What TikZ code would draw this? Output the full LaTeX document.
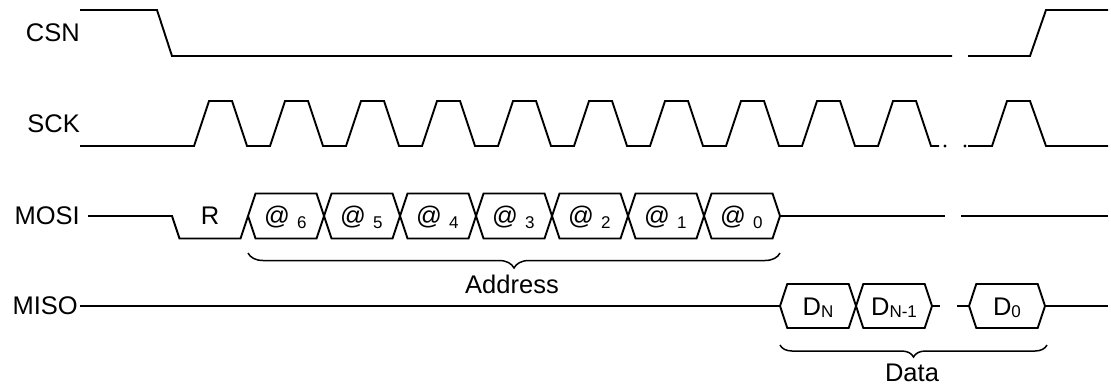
\documentclass[tikz,border=0pt]{standalone}
\usepackage{fontspec}
\setmainfont{Liberation Sans}
\usetikzlibrary{decorations.pathreplacing}
\begin{document}
\begin{tikzpicture}[x=1pt,y=-1pt,
  sig/.style={draw, line width=1.9pt, line join=miter},
  lbl/.style={font=\fontsize{25.5}{25.5}\selectfont, inner sep=0pt},
  sublbl/.style={font=\fontsize{17}{17}\selectfont, inner sep=0pt},
  bracestyle/.style={draw, line width=1.5pt, decorate, decoration={brace, mirror, amplitude=#1}},
  dotstyle/.style={fill=black}
]
\path[use as bounding box] (0,0) rectangle (1111,386);

% signal names
\node[lbl, anchor=east] (csn)  at (80,33)    {CSN};
\node[lbl, anchor=east] (sck)  at (80,123.5) {SCK};
\node[lbl, anchor=east] (mosi) at (80,216)   {MOSI};
\node[lbl, anchor=east] (miso) at (78,306)   {MISO};

% CSN
\draw[sig] (80,10) -- (157,10) -- (172,56) -- (952,56);
\draw[sig] (968,56) -- (1030,56) -- (1046,10) -- (1108,10);

% SCK
\draw[sig] (80,146) -- (194,146)
  \foreach \k in {0,...,8}{ -- ({209+76*\k},101) -- ({232+76*\k},101) -- ({247+76*\k},146) -- ({270+76*\k},146)}
  -- (893,101) -- (916,101) -- (931,146) -- (939,146);
\fill[dotstyle] (945,146) circle (1.6);
\fill[dotstyle] (965,146) circle (1.6);
\draw[sig] (968,146) -- (992,146) -- (1007,101) -- (1030,101) -- (1046,146) -- (1108,146);

% MOSI
\draw[sig] (88,216) -- (172,216) -- (179.5,238.5) -- (240.5,238.5) -- (248,216);
\node[lbl, anchor=base] (r) at (210,224.5) {R};
\foreach \k/\d in {0/6,1/5,2/4,3/3,4/2,5/1,6/0}{
  \pgfmathsetmacro\t{248+76*\k}
  \draw[sig] (\t,216) -- ++(7.5,-22.5) -- ++(61,0) -- ++(7.5,22.5) -- ++(-7.5,22.5) -- ++(-61,0) -- cycle;
  \node[lbl, anchor=base] (at\k) at (\t+29,224.5) {@};
  \node[sublbl, anchor=base west] (ad\k) at (\t+49,228.5) {\d};
}
\draw[sig] (780,216) -- (945,216);
\draw[sig] (961,216) -- (1108,216);

% Address brace
\draw[bracestyle=15pt] (248,253) -- (780,253);
\node[lbl] (addr) at (512,284) {Address};

% MISO
\draw[sig] (80,306) -- (780,306);
\foreach \a/\b/\n in {780/856/dn, 856/932/dn1, 969/1045/d0}{
  \draw[sig] (\a,306) -- (\a+7.3,284) -- (\b-7.3,284) -- (\b,306) -- (\b-7.3,328) -- (\a+7.3,328) -- cycle;
}
\node[lbl, anchor=base] (dn)  at (818,315)  {D\raisebox{-2.5pt}{\fontsize{17}{17}\selectfont N}};
\node[lbl, anchor=base] (dn1) at (894,315)  {D\raisebox{-2.5pt}{\fontsize{17}{17}\selectfont N-1}};
\node[lbl, anchor=base] (d0)  at (1007,315) {D\raisebox{-2.5pt}{\fontsize{17}{17}\selectfont 0}};
\draw[sig] (932,306) -- (940,306);
\draw[sig] (957,306) -- (969,306);
\draw[sig] (1045,306) -- (1108,306);

% Data brace
\draw[bracestyle=12pt] (780,345) -- (1047,345);
\node[lbl] (data) at (912,373) {Data};
\end{tikzpicture}
\end{document}
